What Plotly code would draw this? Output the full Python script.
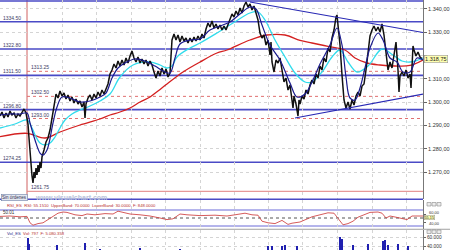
import plotly.graph_objects as go

# ---------------- data ----------------
price_bar = [0,2,4,6,8,10,12,14,16,18,20,22,24,26,28,29,30,31,32,33,34,35,36,37,38,39,40,41,42,44,46,48,50,52,54,56,58,60,62,64,66,68,70,72,74,76,78,80,82,84,85,86,88,90,92,94,96,98,100,102,104,106,108,110,112,114,116,118,120,122,124,126,128,130,132,134,136,138,140,142,144,146,148,150,152,154,156,158,160,162,164,166,168,170,171,172,174,176,178,180,182,184,186,188,190,192,194,196,198,200,202,204,206,208,210,212,214,216,218,220,222,224,226,228,230,232,234,236,238,240,242,244,246,248,250,252,254,256,258,260,262,264,266,268,270,271,272,274,276,278,280,282,284,286,288,290,292,293,294,296,298,299,300,302,304,306,308,310,312,314,316,318,320,322,324,326,328,330,332,334,336,337,338,340,342,344,346,348,350,352,354,356,358,360,362,364,366,368,370,372,374,376,378,380,382,384,386,388,390,392,394,396,398,399,400,402,404,406,408,410,411,412,413,414,416,418,420,422]
price_close = [1294.07,1295.79,1293.21,1295.36,1293.64,1296.22,1294.50,1295.36,1293.21,1294.93,1294.07,1295.79,1297.08,1295.36,1290.64,1284.63,1278.62,1273.04,1268.32,1265.32,1270.04,1267.46,1271.75,1268.75,1273.04,1270.04,1274.33,1271.75,1276.48,1279.48,1282.91,1284.63,1288.06,1293.21,1299.22,1303.51,1301.80,1304.80,1302.66,1303.94,1301.37,1303.09,1300.51,1302.23,1299.65,1301.37,1299.22,1300.51,1297.94,1300.08,1293.21,1299.22,1301.80,1303.09,1300.94,1303.51,1301.80,1304.37,1302.66,1305.23,1303.51,1306.09,1307.81,1312.10,1313.82,1316.39,1314.67,1317.68,1315.53,1318.11,1315.96,1318.97,1316.82,1319.82,1321.97,1318.97,1317.25,1319.40,1316.82,1318.54,1316.39,1318.11,1315.53,1317.68,1315.96,1312.96,1310.38,1313.39,1311.24,1314.67,1312.10,1314.24,1310.81,1312.53,1318.11,1326.69,1329.27,1326.69,1328.84,1325.83,1328.41,1326.26,1327.55,1325.40,1327.55,1325.83,1327.98,1326.26,1328.41,1326.69,1329.27,1327.55,1331.41,1333.99,1332.27,1334.85,1331.84,1333.56,1331.41,1333.13,1331.00,1332.70,1331.00,1333.56,1336.13,1337.85,1336.56,1339.14,1337.42,1340.43,1338.28,1341.28,1343.00,1340.86,1342.14,1339.57,1341.28,1338.71,1335.28,1329.70,1327.55,1328.84,1324.55,1326.69,1320.25,1325.83,1317.25,1312.96,1318.11,1316.82,1318.97,1313.82,1308.67,1310.38,1305.23,1307.38,1300.94,1297.51,1302.66,1299.22,1294.07,1300.94,1299.22,1302.66,1301.37,1305.23,1303.51,1307.38,1309.52,1307.81,1312.10,1310.38,1315.53,1313.82,1318.97,1317.25,1323.26,1321.54,1327.55,1330.98,1336.56,1337.42,1333.13,1324.55,1311.67,1300.94,1297.51,1300.08,1297.08,1300.94,1298.79,1302.66,1304.37,1302.66,1306.95,1307.81,1313.82,1321.54,1328.41,1330.98,1332.70,1330.55,1332.27,1330.12,1333.56,1328.84,1320.25,1313.82,1317.25,1314.67,1320.25,1325.83,1313.82,1304.37,1311.24,1312.96,1311.24,1313.82,1310.38,1312.10,1306.09,1318.11,1324.12,1322.40,1319.82,1321.54,1319.40,1318.75]

red_bar = [0,27,45,60,80,100,110,120,130,140,150,158,167,183,200,217,227,250,267,285,300,312,328,345,355,367,380,395,410,423]
red_ma = [1285.19,1286.65,1284.63,1287.21,1290.21,1292.79,1294.50,1295.79,1297.51,1300.08,1302.23,1304.80,1307.81,1312.96,1317.25,1321.11,1322.40,1326.69,1328.84,1328.84,1326.48,1325.40,1323.97,1322.40,1318.97,1316.82,1315.96,1315.53,1315.75,1318.11]

cyan_bar = [0,15,27,32,36,40,45,50,55,60,65,72,80,90,100,110,120,133,150,160,167,172,177,190,200,217,233,250,258,265,275,285,295,305,312,322,332,340,348,357,368,382,393,402,410,418,423]
cyan_ma = [1288.92,1290.64,1292.36,1288.92,1285.06,1282.48,1281.63,1282.48,1285.06,1288.92,1292.36,1294.93,1296.65,1298.36,1300.51,1303.51,1310.81,1315.96,1317.25,1315.96,1314.67,1315.53,1319.40,1323.26,1325.40,1329.70,1333.99,1338.28,1338.71,1335.28,1326.69,1319.40,1312.53,1308.67,1308.67,1312.96,1319.40,1322.40,1317.25,1312.96,1315.53,1322.83,1320.25,1317.68,1317.25,1318.11,1318.97]

navy_bar = [0,10,20,27,30,35,40,43,47,53,57,62,70,80,90,100,106,112,118,125,135,145,155,165,170,175,180,190,200,210,220,230,240,250,256,262,270,280,290,297,305,312,320,330,337,342,346,350,355,360,365,370,378,383,390,397,403,410,417,423]
navy_ma = [1294.50,1294.93,1294.93,1295.36,1291.07,1283.77,1278.19,1277.33,1279.48,1291.07,1297.94,1302.23,1301.80,1300.08,1300.51,1302.23,1303.94,1310.38,1314.67,1316.82,1318.54,1317.68,1315.53,1312.96,1312.53,1318.97,1324.98,1326.69,1327.12,1330.98,1332.70,1334.42,1337.85,1340.86,1340.00,1333.13,1324.55,1318.11,1308.24,1302.23,1303.51,1308.67,1316.39,1324.55,1331.84,1324.55,1310.81,1301.80,1300.94,1306.09,1314.67,1323.26,1329.70,1326.69,1318.97,1317.25,1312.96,1312.96,1318.97,1318.11]

trend_top_bar = [250, 423]
trend_top = [1343.0, 1329.9]
trend_bot_bar = [295, 423]
trend_bot = [1293.2, 1303.5]

blue_levels = [1343.4, 1334.50, 1322.80, 1311.50, 1296.80, 1274.25]
blue_labels = ["", "1334.50", "1322.80", "1311.50", "1296.80", "1274.25"]
red_dot_levels = [1313.25, 1302.50, 1293.00]
red_dot_labels = ["1313.25", "1302.50", "1293.00"]
low_level = 1261.75
low_label = "1261.75"
session_bar = 27
grid_bars = [62, 96.5, 131, 165.5, 200, 234, 268, 302.5, 337, 372, 406.5]

price_ticks = [1340, 1330, 1320, 1310, 1300, 1290, 1280, 1270]
price_tick_hidden = [1320]          # covered by the last-price box in the original
last_price = 1318.75

rsi_bar = [0,10,20,27,30,33,38,43,48,53,58,63,67,75,82,87,95,105,113,118,123,130,140,150,160,167,173,180,187,200,215,227,235,245,252,258,262,268,275,282,288,292,300,306,312,320,328,334,338,343,348,353,358,365,370,378,382,386,390,396,402,407,412,418,423]
rsi_val = [54,55,53,54,38,32,36,38,46,53,62,65,64,58,56,60,58,61,60,67,64,60,58,55,50,46,48,60,58,56,57,55,58,62,58,57,42,38,36,44,34,37,40,46,53,58,63,62,48,33,36,42,52,58,64,65,62,50,55,52,48,46,55,54,55]
rsi_last = 55.15
rsi_ticks = [60, 40]

vol_bar = [28,29,57,85,100,140,180,268,272,282,285,297,340,342,353,368,383,385,388,398,408]
vol_val = [59500,45000,43800,48000,36000,37000,35000,41500,42000,42500,43000,41000,61000,57000,44000,45000,52000,55000,44000,46000,42000]
vol_ticks = [60000, 40000]

# ---------------- figure ----------------
FONT = "Liberation Sans, Arial, sans-serif"
LEVEL_BLUE = "#4a4ac6"
TXT = "#3c3c66"

def eu(v, dec=2):
    s = f"{v:,.{dec}f}"
    return s.replace(",", "X").replace(".", ",").replace("X", ".")

fig = go.Figure()

fig.add_trace(go.Scatter(x=red_bar, y=red_ma, mode="lines", line=dict(color="#d42020", width=1.3, shape="spline"), yaxis="y"))
fig.add_trace(go.Scatter(x=cyan_bar, y=cyan_ma, mode="lines", line=dict(color="#30dcec", width=1.3, shape="spline"), yaxis="y"))
fig.add_trace(go.Scatter(x=price_bar, y=price_close, mode="lines", line=dict(color="#111111", width=1.5), yaxis="y"))
fig.add_trace(go.Scatter(x=navy_bar, y=navy_ma, mode="lines", line=dict(color="#1a1a8c", width=1.2, shape="spline"), yaxis="y"))
fig.add_trace(go.Scatter(x=trend_top_bar, y=trend_top, mode="lines", line=dict(color="#2828b4", width=1.2), yaxis="y"))
fig.add_trace(go.Scatter(x=trend_bot_bar, y=trend_bot, mode="lines", line=dict(color="#2828b4", width=1.2), yaxis="y"))

fig.add_trace(go.Scatter(x=rsi_bar, y=rsi_val, mode="lines", line=dict(color="#d04848", width=0.9), yaxis="y2"))
fig.add_trace(go.Bar(x=vol_bar, y=vol_val, width=1.2, marker=dict(color="#2020b0", line=dict(width=0)), yaxis="y3"))

shapes = []
for lv in blue_levels:
    shapes.append(dict(type="line", xref="x", yref="y", x0=0, x1=423, y0=lv, y1=lv,
                       line=dict(color=LEVEL_BLUE, width=1.6), layer="below"))
for lv in red_dot_levels:
    shapes.append(dict(type="line", xref="x", yref="y", x0=session_bar, x1=423, y0=lv, y1=lv,
                       line=dict(color="#e07070", width=1, dash="dot"), layer="below"))
shapes.append(dict(type="line", xref="x", yref="y", x0=session_bar, x1=423, y0=low_level, y1=low_level,
                   line=dict(color="#e08080", width=1), layer="below"))
shapes.append(dict(type="line", xref="x", yref="paper", x0=session_bar, x1=session_bar, y0=0.204, y1=1,
                   line=dict(color="#d06060", width=1), layer="below"))
# panel separators
shapes.append(dict(type="line", xref="paper", yref="paper", x0=0, x1=0.94, y0=0.203, y1=0.203,
                   line=dict(color=LEVEL_BLUE, width=1.6)))
shapes.append(dict(type="line", xref="paper", yref="paper", x0=0, x1=1, y0=0.083, y1=0.083,
                   line=dict(color="#a0a0a0", width=1)))
# RSI bands
for lv, c, d in [(70, "#6a6ad8", "solid"), (30, "#6a6ad8", "solid"), (50, "#555555", "dot")]:
    shapes.append(dict(type="line", xref="x", yref="y2", x0=0, x1=423, y0=lv, y1=lv,
                       line=dict(color=c, width=1, dash=d), layer="below"))
# window buttons
for ytop in [202.5, 230.0]:
    for x0 in [427, 432, 437]:
        shapes.append(dict(type="rect", xref="paper", yref="paper",
                           x0=x0 / 450, x1=(x0 + 4) / 450, y0=(250 - ytop - 3.5) / 250, y1=(250 - ytop) / 250,
                           line=dict(color="#8a8a8a", width=0.6), fillcolor="#ececec"))

ann = []
for lv, lab in zip(blue_levels, blue_labels):
    if lab:
        ann.append(dict(x=1, y=lv, xref="x", yref="y", text=lab, showarrow=False, xanchor="left",
                        yanchor="bottom", yshift=-1, font=dict(size=5, color=TXT, family=FONT)))
for lv, lab in zip(red_dot_levels + [low_level], red_dot_labels + [low_label]):
    ann.append(dict(x=session_bar + 1.5, y=lv, xref="x", yref="y", text=lab, showarrow=False, xanchor="left",
                    yanchor="bottom", yshift=-1, font=dict(size=5, color=TXT, family=FONT)))
ann.append(dict(x=424 / 450, y=last_price, xref="paper", yref="y", text=eu(last_price), showarrow=False,
                xanchor="left", yanchor="middle", bgcolor="#ffffb0", bordercolor="#999999", borderwidth=0.6,
                borderpad=0.5, font=dict(size=5.5, color="#222222", family=FONT)))
# RSI right-hand labels (placed as text so they can be stacked like the original)
ann.append(dict(x=424 / 450, y=rsi_last, xref="paper", yref="y2", text=eu(rsi_last), showarrow=False,
                xanchor="left", yanchor="middle", yshift=-1.2, bgcolor="#ffffb0", bordercolor="#999999",
                borderwidth=0.5, borderpad=0, font=dict(size=3.8, color="#222222", family=FONT)))
for v, shift in zip(rsi_ticks, [1.8, -1.5]):
    ann.append(dict(x=427 / 450, y=v, xref="paper", yref="y2", text=eu(v), showarrow=False,
                    xanchor="left", yanchor="middle", yshift=shift, font=dict(size=4, color="#333333", family=FONT)))
ann.append(dict(x=0.002, y=(250 - 197.3) / 250, xref="paper", yref="paper", text="Sin órdenes", showarrow=False,
                xanchor="left", yanchor="middle", bgcolor="#e4e8f0", bordercolor="#7080a8", borderwidth=0.6,
                borderpad=0.3, font=dict(size=4.5, color="#333355", family=FONT)))
ann.append(dict(x=33 / 450, y=(250 - 197.5) / 250, xref="paper", yref="paper", text="<b>www.visualchart.com</b>",
                showarrow=False, xanchor="left", yanchor="middle", font=dict(size=7, color="#b8c2da", family=FONT)))
ann.append(dict(x=5 / 450, y=(250 - 205) / 250, xref="paper", yref="paper",
                text="RSI_ES  RSI: 55.1510  UpperBand: 70.0000  LowerBand: 30.0000  F: 848.0000",
                showarrow=False, xanchor="left", yanchor="middle", font=dict(size=4.2, color="#b83030", family=FONT)))
ann.append(dict(x=1, y=52, xref="x", yref="y2", text="50.01", showarrow=False, xanchor="left", yanchor="bottom",
                font=dict(size=4.5, color="#333333", family=FONT)))
ann.append(dict(x=5 / 450, y=(250 - 233.5) / 250, xref="paper", yref="paper",
                text="<span style='color:#30308a'>Vol_ES</span>  Vol: 797  <span style='color:#b83030'>F: 5.080.358</span>",
                showarrow=False, xanchor="left", yanchor="middle", font=dict(size=4.2, color="#b83030", family=FONT)))

price_ticktext = ["" if v in price_tick_hidden else eu(v) for v in price_ticks]

fig.update_layout(
    width=450, height=250, margin=dict(l=0, r=0, t=0, b=0),
    paper_bgcolor="white", plot_bgcolor="white", showlegend=False,
    font=dict(family=FONT, size=5, color="#222222"),
    shapes=shapes, annotations=ann, bargap=0,
    xaxis=dict(domain=[0, 423 / 450], range=[0, 423], tickvals=grid_bars, showticklabels=False, ticks="",
               showgrid=True, gridcolor="#d4d4d4", griddash="dot", gridwidth=1, zeroline=False, anchor="y"),
    yaxis=dict(domain=[0.204, 1], range=[1258.45, 1343.86], side="right", anchor="x",
               tickvals=price_ticks, ticktext=price_ticktext, tickfont=dict(size=5.5, color="#333333"),
               ticks="outside", ticklen=3, tickcolor="#666666", showline=True, linecolor="#777777", linewidth=1,
               showgrid=True, gridcolor="#d4d4d4", griddash="dot", zeroline=False),
    yaxis2=dict(domain=[0.084, 0.2], range=[22.5, 95], side="right", anchor="x",
                tickvals=rsi_ticks, showticklabels=False,
                ticks="outside", ticklen=2, tickcolor="#666666", showline=True, linecolor="#777777", linewidth=1,
                showgrid=False, zeroline=False),
    yaxis3=dict(domain=[0, 0.08], range=[32700, 77100], side="right", anchor="x",
                tickvals=vol_ticks, ticktext=[eu(v, 0) for v in vol_ticks], tickfont=dict(size=4.8, color="#333333"),
                ticks="outside", ticklen=2, tickcolor="#666666", showline=True, linecolor="#777777", linewidth=1,
                showgrid=True, gridcolor="#d4d4d4", griddash="dot", zeroline=False),
)

fig.write_html("out.html")
